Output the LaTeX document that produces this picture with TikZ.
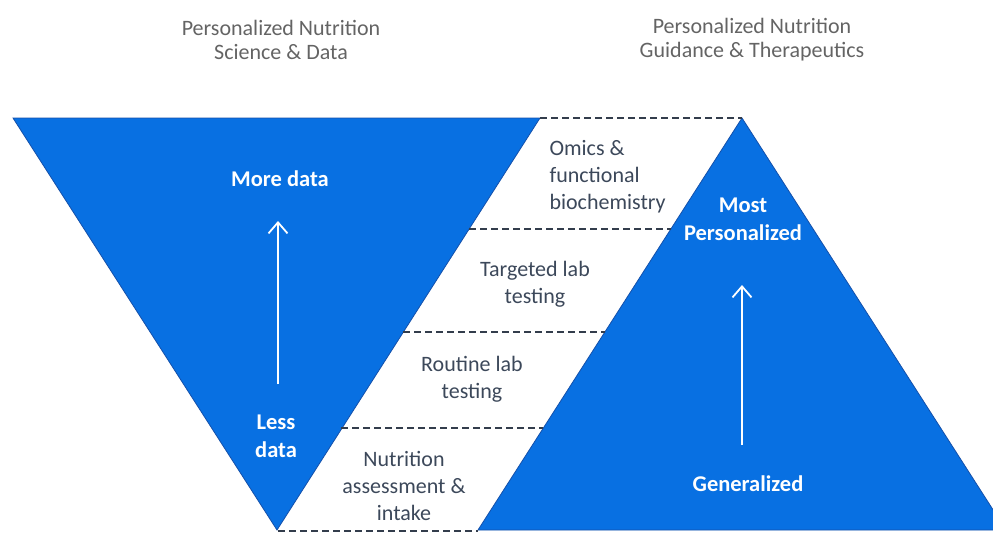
\documentclass[tikz,border=0pt]{standalone}
\usepackage{fontspec}
\setmainfont{Carlito}
\usetikzlibrary{arrows.meta}
\definecolor{triblue}{RGB}{8,112,226}
\definecolor{triedge}{RGB}{20,80,170}
\definecolor{midtext}{RGB}{60,72,90}
\definecolor{titletext}{RGB}{100,100,100}
\tikzset{
  tri/.style={fill=triblue, draw=triedge, line width=0.8pt},
  sep/.style={dash pattern=on 7pt off 4pt, line width=1.3pt, draw=midtext!85!black},
  whitelbl/.style={text=white, font=\fontsize{22.5}{28}\selectfont\bfseries, align=center},
  midlbl/.style={text=midtext, font=\fontsize{22}{27}\selectfont, align=center},
  titlelbl/.style={text=titletext, font=\fontsize{22}{24}\selectfont, align=center},
  uparrow/.style={draw=white, line width=1.8pt, -{Straight Barb[length=11pt,width=19pt,line width=1.8pt]}}
}
\begin{document}
\begin{tikzpicture}[x=1pt,y=-1pt]
\useasboundingbox (0,0) rectangle (993,533);
\begin{scope}
\clip (0,0) rectangle (993,533);
% triangles
\coordinate (itl) at (13,118);
\coordinate (itr) at (540,118);
\coordinate (ibot) at (277,530);
\coordinate (uap) at (742,118);
\coordinate (ubl) at (478,530);
\coordinate (ubr) at (1006,530);
\path[tri] (itl) -- (itr) -- (ibot) -- cycle;
\path[tri] (uap) -- (ubr) -- (ubl) -- cycle;
\end{scope}
% dashed separators
\coordinate (d0a) at (540,118); \coordinate (d0b) at (742,118);
\coordinate (d1a) at (469,229); \coordinate (d1b) at (671,229);
\coordinate (d2a) at (403,332); \coordinate (d2b) at (605,332);
\coordinate (d3a) at (341,428); \coordinate (d3b) at (543,428);
\coordinate (d4a) at (278,531); \coordinate (d4b) at (478,531);
\draw[sep] (d0a) -- (d0b);
\draw[sep] (d1a) -- (d1b);
\draw[sep] (d2a) -- (d2b);
\draw[sep] (d3a) -- (d3b);
\draw[sep] (d4a) -- (d4b);
% titles
\node[titlelbl] (t1) at (281,40) {Personalized Nutrition\\Science \& Data};
\node[titlelbl] (t2) at (752,40) {Personalized Nutrition\\Guidance \& Therapeutics};
% left triangle labels
\node[whitelbl] (more) at (280,179) {More data};
\node[whitelbl] (less) at (276,436) {Less\\data};
\coordinate (la1) at (278,384);
\coordinate (la2) at (278,221);
\draw[uparrow] (la1) -- (la2);
% right triangle labels
\node[whitelbl] (most) at (743,219) {Most\\Personalized};
\node[whitelbl] (gen) at (748,484) {Generalized};
\coordinate (ra1) at (742,445);
\coordinate (ra2) at (742,285);
\draw[uparrow] (ra1) -- (ra2);
% middle labels
\node[midlbl, align=left, anchor=west] (omics) at (546,177) {Omics \&\\functional\\biochemistry};
\node[midlbl] (targ) at (535,284) {Targeted lab\\testing};
\node[midlbl] (rout) at (472,379) {Routine lab\\testing};
\node[midlbl] (nutr) at (404,486) {Nutrition\\assessment \&\\intake};
\end{tikzpicture}
\end{document}
